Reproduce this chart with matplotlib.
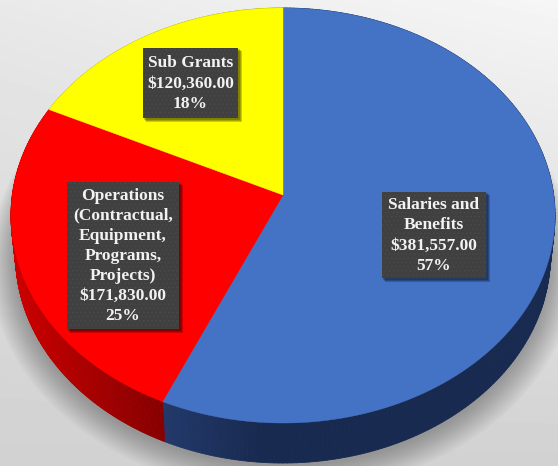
"""Perspective 3D budget pie, drawn in pixel coordinates."""
import numpy as np
import matplotlib
matplotlib.use("Agg")
import matplotlib.pyplot as plt
from matplotlib.collections import PolyCollection
from matplotlib.patches import Polygon, Rectangle

categories = ["Salaries and\nBenefits",
              "Operations\n(Contractual,\nEquipment,\nPrograms,\nProjects)",
              "Sub Grants"]
amounts = [381557.00, 171830.00, 120360.00]
percents = ["57%", "25%", "18%"]

top_colors = ["#4472C4", "#FF0000", "#FFFF00"]
side_left = [(0.135, 0.225, 0.42), (0.80, 0.0, 0.0), (0.75, 0.75, 0.0)]
side_right = [(0.095, 0.165, 0.315), (0.53, 0.0, 0.0), (0.6, 0.6, 0.0)]
side_ramp = [4.0, 1.0, 1.0]
boxes = [(382, 192, 104, 86), (67, 182, 112, 147), (143, 48, 95, 70)]

W, H = 558, 466
CX, CY = 283.0, 195.0
A, B, K = 270.7, 205.5, 0.0988
DEPTH, BASE_SCALE = 40.0, 0.983


def project(theta, base=False):
    # theta runs clockwise from 12 o'clock, the tilt makes the far side smaller
    u, v = np.sin(theta), np.cos(theta)
    w = 1 + K * v
    x = A * u / w
    y = -B * v / w
    if base:
        return CX + x * BASE_SCALE, CY + y + DEPTH
    return CX + x, CY + y


def background(ax):
    yy, xx = np.mgrid[0:H, 0:W]
    # light at the top, a bit darker on the left, flat grey at the bottom
    img = 0.965 - 0.145 * (yy / H) ** 0.9 - 0.05 * (1 - xx / W) * (1 - yy / H)
    ax.imshow(img, cmap="gray", vmin=0, vmax=1, extent=(0, W, H, 0),
              aspect="auto", zorder=0)


def shadow(ax):
    t = np.linspace(0, 2 * np.pi, 300)
    x, y = project(t, base=True)
    for grow in np.arange(26, 0, -2.0):
        sx = CX + (x - CX) * (1 + grow / 272)
        sy = CY + 2 + (y - CY) * (1 + grow / 250)
        ax.add_patch(Polygon(np.c_[sx, sy], closed=True, fc="black", ec="none",
                             alpha=0.022, zorder=1))


def draw_pie(ax, edges):
    # outer wall first, the top faces go over it
    for i in range(len(amounts)):
        t = np.linspace(edges[i], edges[i + 1], 240)
        xt, yt = project(t)
        xb, yb = project(t, base=True)
        quads, cols = [], []
        lo, hi = xb[yb > yt.min()].min(), xb.max()
        for j in range(len(t) - 1):
            quads.append([(xt[j], yt[j]), (xt[j + 1], yt[j + 1]),
                          (xb[j + 1], yb[j + 1]), (xb[j], yb[j])])
            f = min((xb[j] - lo) / max(hi - lo, 1) * side_ramp[i], 1)
            if i == 0:
                # blue wall: the light end sits at the red boundary on the left
                f = min((xb[j] - xb.min()) / (hi - xb.min()) * side_ramp[i], 1)
            cols.append(tuple(np.array(side_left[i]) * (1 - f) + np.array(side_right[i]) * f))
        ax.add_collection(PolyCollection(quads, facecolors=cols, edgecolors=cols,
                                         linewidths=0.6, zorder=2))
    for i in range(len(amounts)):
        t = np.linspace(edges[i], edges[i + 1], 240)
        xt, yt = project(t)
        pts = np.r_[[[CX, CY]], np.c_[xt, yt]]
        ax.add_patch(Polygon(pts, closed=True, fc=top_colors[i], ec=top_colors[i],
                             lw=0.3, zorder=3))


def draw_labels(ax):
    for name, amt, pct, (x, y, w, h) in zip(categories, amounts, percents, boxes):
        for off in (4, 3, 2):
            ax.add_patch(Rectangle((x + off - 1, y + off - 1), w + 1, h + 1, fc="black",
                                   ec="none", alpha=0.2, zorder=4))
        ax.add_patch(Rectangle((x, y), w, h, fc="#404040", ec="none", zorder=5))
        ax.add_patch(Rectangle((x, y), w, h, fc="none", ec="#4a4a4a", lw=0,
                               hatch="....", zorder=5))
        ax.text(x + w / 2, y + h / 2 + 0.5, f"{name}\n${amt:,.2f}\n{pct}", color="#F2F2F2",
                family="Liberation Serif", weight="bold", fontsize=12.5,
                ha="center", va="center", linespacing=1.34, zorder=6)


def main():
    plt.rcParams["hatch.linewidth"] = 0.5
    fig = plt.figure(figsize=(W / 100, H / 100), dpi=100)
    ax = fig.add_axes([0, 0, 1, 1])
    background(ax)
    shadow(ax)
    fractions = np.array(amounts) / sum(amounts)
    edges = 2 * np.pi * np.r_[0, np.cumsum(fractions)]
    draw_pie(ax, edges)
    draw_labels(ax)
    ax.set_xlim(0, W)
    ax.set_ylim(H, 0)
    ax.axis("off")
    fig.savefig("out.png", dpi=100)


if __name__ == "__main__":
    main()
